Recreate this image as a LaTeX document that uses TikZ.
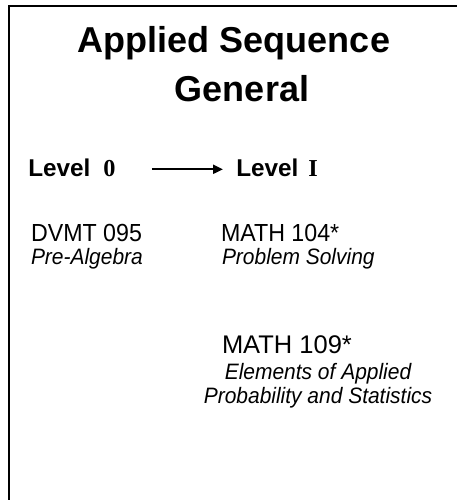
\documentclass[tikz,border=0pt]{standalone}
\usepackage{fontspec}
\setmainfont{Liberation Sans}
\newfontfamily\condsf{Liberation Sans}[FakeStretch=0.94]
\newfontfamily\timesfont{Liberation Serif}
\usetikzlibrary{arrows.meta}
\tikzset{
 ttl/.style={font=\fontsize{36}{42}\selectfont\bfseries,inner sep=0pt,anchor=base},
 lvl/.style={font=\fontsize{24.3}{28}\selectfont\bfseries,inner sep=0pt,anchor=base west},
 crs/.style={font=\fontsize{24.7}{28}\selectfont\condsf,inner sep=0pt,anchor=base west},
 dsc/.style={font=\fontsize{22.3}{24}\selectfont\condsf\itshape,inner sep=0pt,anchor=base west},
}
\begin{document}
\begin{tikzpicture}[x=1pt,y=-1pt,line width=2pt]
 \useasboundingbox (0,0) rectangle (457,500);
 \draw (457,6) -- (9,6) -- (9,500);
 \node[ttl] (seq) at (234,53) {Applied Sequence};
 \node[ttl] (gen) at (242,102) {General};
 \node[lvl] (lev0) at (27.3,176) {Level\hspace{13pt}{\timesfont 0}};
 \node[lvl] (lev1) at (235.3,176) {Level\hspace{10pt}{\timesfont I}};
 \draw[-{Triangle[length=10pt,width=9pt]}] ([xshift=35.4pt,yshift=6.7pt]lev0.base east) -- ([xshift=-12.3pt,yshift=6.7pt]lev1.base west);
 \node[crs] (dvmt) at (30,241) {DVMT 095};
 \node[dsc] (pre) at (30,264) {Pre-Algebra};
 \node[crs] (m104) at (220,241) {MATH 104*};
 \node[dsc] (ps) at (221,264) {Problem Solving};
 \node[crs,font=\fontsize{25.5}{30}\selectfont] (m109) at (221,353) {MATH 109*};
 \node[dsc,anchor=base] (el1) at (318,379) {Elements of Applied};
 \node[dsc,anchor=base] (el2) at (318,403) {Probability and Statistics};
\end{tikzpicture}
\end{document}
